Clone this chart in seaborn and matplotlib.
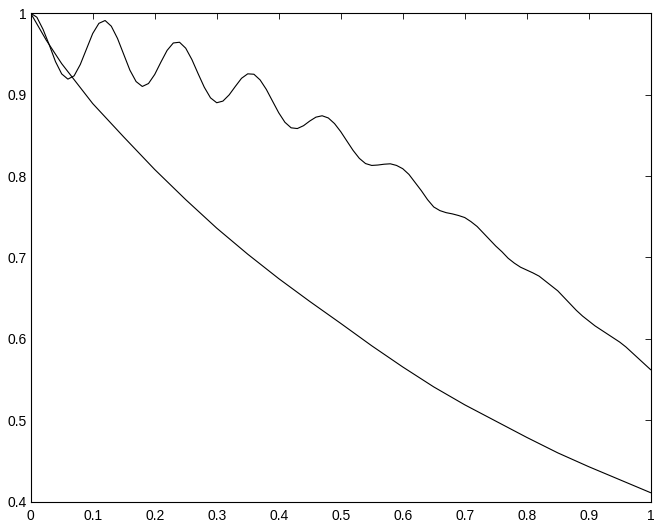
import numpy as np
import pandas as pd
import matplotlib
matplotlib.use("Agg")
import matplotlib.pyplot as plt
from matplotlib.ticker import FuncFormatter
import seaborn as sns

sns.set_style("white")
plt.rcParams["font.family"] = ["Liberation Sans", "DejaVu Sans"]

# curva oscilante (passo 0.01)
x_oscilante = np.round(np.arange(0, 101) * 0.01, 2)
y_oscilante = [
    1.000, 0.995, 0.980, 0.961, 0.9405, 0.9254, 0.919, 0.923, 0.937, 0.956,
    0.975, 0.9875, 0.991, 0.984, 0.969, 0.9495, 0.930, 0.916, 0.910, 0.9136,
    0.9247, 0.9399, 0.9543, 0.9634, 0.9643, 0.957, 0.943, 0.9257, 0.909, 0.896,
    0.890, 0.892, 0.8996, 0.910, 0.920, 0.9255, 0.925, 0.918, 0.9064, 0.892,
    0.8777, 0.866, 0.8592, 0.8583, 0.8618, 0.8675, 0.8723, 0.874, 0.8713, 0.8644,
    0.8545, 0.8429, 0.8314, 0.8217, 0.8153, 0.813, 0.8135, 0.8145, 0.815, 0.813,
    0.809, 0.802, 0.792, 0.782, 0.771, 0.762, 0.7575, 0.755, 0.7535, 0.7515,
    0.749, 0.744, 0.738, 0.730, 0.722, 0.714, 0.707, 0.699, 0.693, 0.688,
    0.6845, 0.681, 0.677, 0.671, 0.665, 0.659, 0.651, 0.643, 0.635, 0.628,
    0.622, 0.616, 0.611, 0.606, 0.601, 0.596, 0.590, 0.583, 0.576, 0.569,
    0.562,
]

# curva decrescente suave
x_suave = [0, 0.025, 0.05, 0.1, 0.15, 0.2, 0.25, 0.3, 0.35, 0.4, 0.45, 0.5,
           0.55, 0.6, 0.65, 0.7, 0.75, 0.8, 0.85, 0.9, 0.95, 1.0]
y_suave = [1.000, 0.967, 0.938, 0.889, 0.848, 0.808, 0.771, 0.736, 0.704, 0.674,
           0.646, 0.619, 0.5915, 0.5655, 0.541, 0.519, 0.499, 0.479, 0.460, 0.443,
           0.427, 0.411]

ticks_x = [0, 0.1, 0.2, 0.3, 0.4, 0.5, 0.6, 0.7, 0.8, 0.9, 1]
ticks_y = [0.4, 0.5, 0.6, 0.7, 0.8, 0.9, 1]

df_oscilante = pd.DataFrame({"x": x_oscilante, "y": y_oscilante})
df_suave = pd.DataFrame({"x": x_suave, "y": y_suave})

fig = plt.figure(figsize=(6.6, 5.27), dpi=100)
ax = fig.add_axes([0.0465, 0.048, 0.9395, 0.927])

sns.lineplot(data=df_oscilante, x="x", y="y", ax=ax, color="black",
             linewidth=0.8, estimator=None, sort=False)
sns.lineplot(data=df_suave, x="x", y="y", ax=ax, color="black",
             linewidth=0.8, estimator=None, sort=False)

ax.set_xlim(0, 1)
ax.set_ylim(0.4, 1)
ax.set_xticks(ticks_x)
ax.set_yticks(ticks_y)
formatar = FuncFormatter(lambda v, pos: f"{v:g}")
ax.xaxis.set_major_formatter(formatar)
ax.yaxis.set_major_formatter(formatar)
ax.set_xlabel("")
ax.set_ylabel("")

for lado in ["left", "right", "top", "bottom"]:
    ax.spines[lado].set_visible(True)
    ax.spines[lado].set_color("black")
    ax.spines[lado].set_linewidth(0.8)

ax.tick_params(axis="both", which="major", direction="in", length=4, width=0.6,
               top=True, right=True, labelsize=10, colors="black")
ax.tick_params(axis="y", pad=3)
ax.tick_params(axis="x", pad=5)

fig.savefig("out.png", dpi=100)
